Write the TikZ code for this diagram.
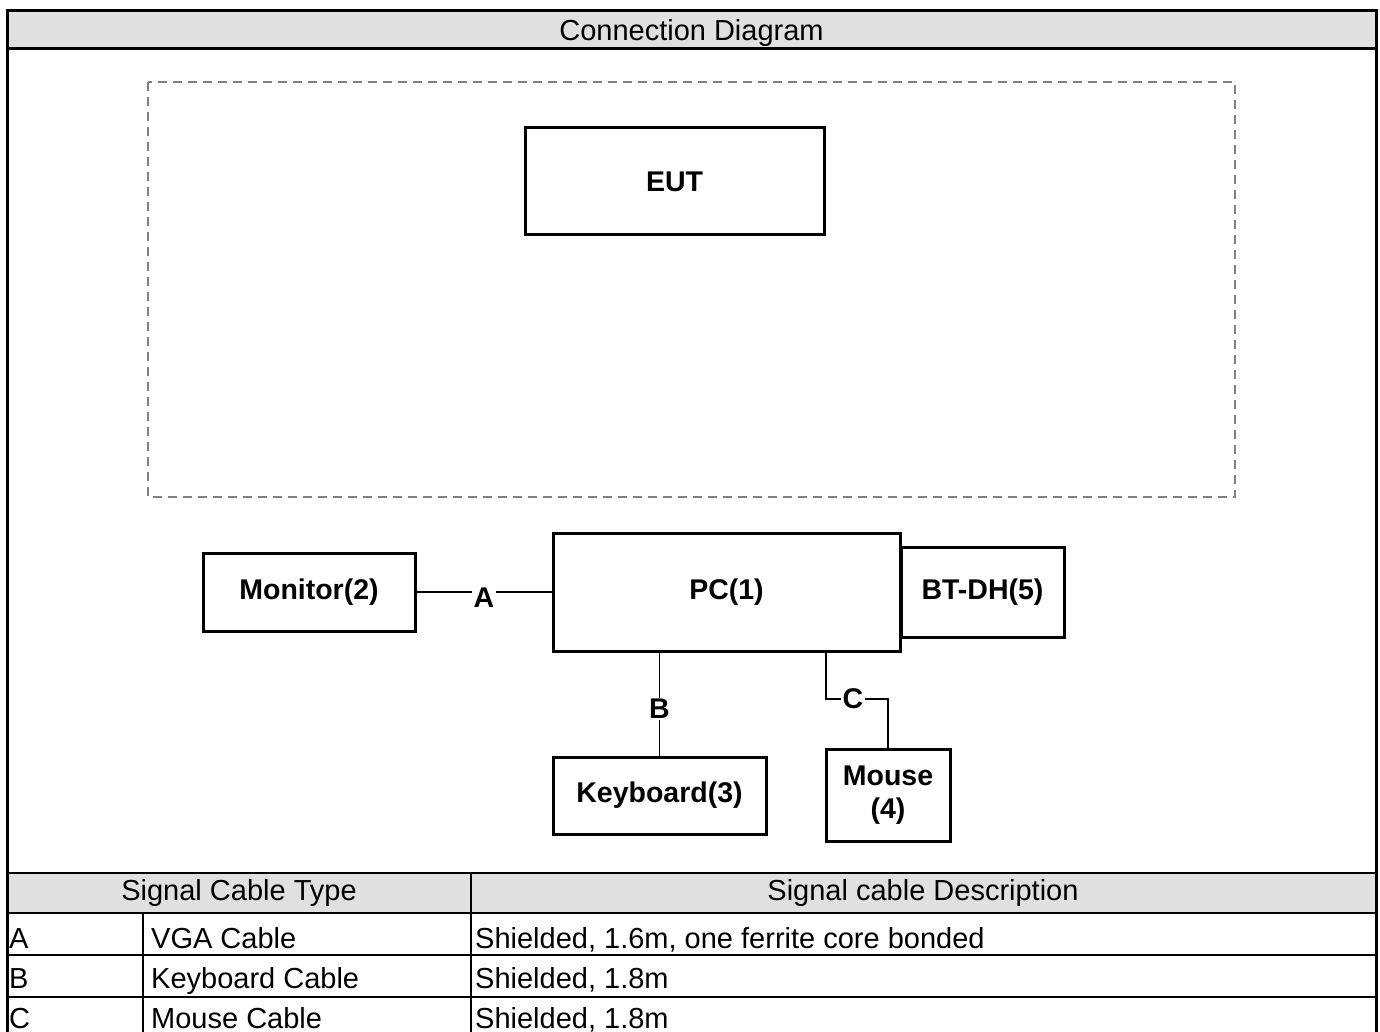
\documentclass[tikz,border=0pt]{standalone}
\usepackage{fontspec}
\setmainfont{Liberation Sans}
\usetikzlibrary{positioning, calc}
\definecolor{hdrgray}{HTML}{E0E0E0}

\begin{document}
\begin{tikzpicture}[x=1pt,y=-1pt,
    unit/.style={draw,line width=3pt,inner sep=0pt,align=center,font=\fontsize{28.5}{33}\selectfont\bfseries},
    cable/.style={line width=1.1pt},
    tag/.style={fill=white,inner sep=1.5pt,font=\fontsize{28.5}{33}\selectfont\bfseries},
    cell/.style={inner sep=0pt,anchor=base west,font=\fontsize{29}{33}\selectfont},
    tabline/.style={line width=2pt},
    zone/.style={draw=gray,dash pattern=on 9pt off 6pt,line width=1.2pt}]
    \useasboundingbox (0,0) rectangle (1380,1032);
    \clip (0,0) rectangle (1380,1032);

    \fill[hdrgray] (7,11) rectangle (1376,49);
    \fill[hdrgray] (7,873) rectangle (1376,913);
    \draw[line width=3pt] (7,1040) -- (7,11) -- (1376,11) -- (1376,1040);
    \draw[line width=3pt] (7,49) -- (1376,49);
    \foreach \y in {873,913,955,997}
        \draw[tabline] (7,\y) -- (1376,\y);
    \draw[tabline] (471,873) -- (471,1040);
    \draw[tabline] (143,913) -- (143,1040);

    \node[cell,anchor=base] (title) at (691.5,41) {Connection Diagram};
    \node[cell,anchor=base] (typehd) at (239,900) {Signal Cable Type};
    \node[cell,anchor=base] (deschd) at (923,900) {Signal cable Description};
    \foreach \k/\t/\d [count=\i] in {A/VGA Cable/{Shielded, 1.6m, one ferrite core bonded},
                                     B/Keyboard Cable/{Shielded, 1.8m},
                                     C/Mouse Cable/{Shielded, 1.8m}} {
        \node[cell] (type\k) at (9,{908+40*\i}) {\k};
        \node[cell] (name\k) at (151,{908+40*\i}) {\t};
        \node[cell] (desc\k) at (475,{908+40*\i}) {\d};
    }

    \draw[zone] (148,82) rectangle (1235,497);

    \node[unit,minimum width=299pt,minimum height=107pt] (eut) at (674.5,181.5) {EUT};
    \node[unit,minimum width=347pt,minimum height=118pt] (pc) at (726.5,592) {PC(1)};
    \node[unit,minimum width=212pt,minimum height=78pt] (mon) [left=135pt of pc] {Monitor(2)};
    \node[unit,minimum width=163pt,minimum height=90pt] (bt) [right=-2pt of pc] {BT-DH(5)};
    \node[unit,minimum width=213pt,minimum height=77pt] (kbd) [below=103pt of pc.south west, anchor=north west] {Keyboard(3)};
    \node[unit,minimum width=124pt,minimum height=92pt] (mouse) [right=57pt of kbd] {Mouse\\(4)};

    \draw[cable] (mon) -- node[tag,yshift=-6pt] {A} (pc);
    \draw[cable] (kbd.north) -- node[tag,yshift=-5pt] {B} (kbd.north |- pc.south);
    \draw[cable] ([xshift=99.5pt]pc.south) |- node[tag,pos=0.75,xshift=-4pt] {C} ([yshift=49pt]mouse.north) -- (mouse.north);
\end{tikzpicture}
\end{document}
